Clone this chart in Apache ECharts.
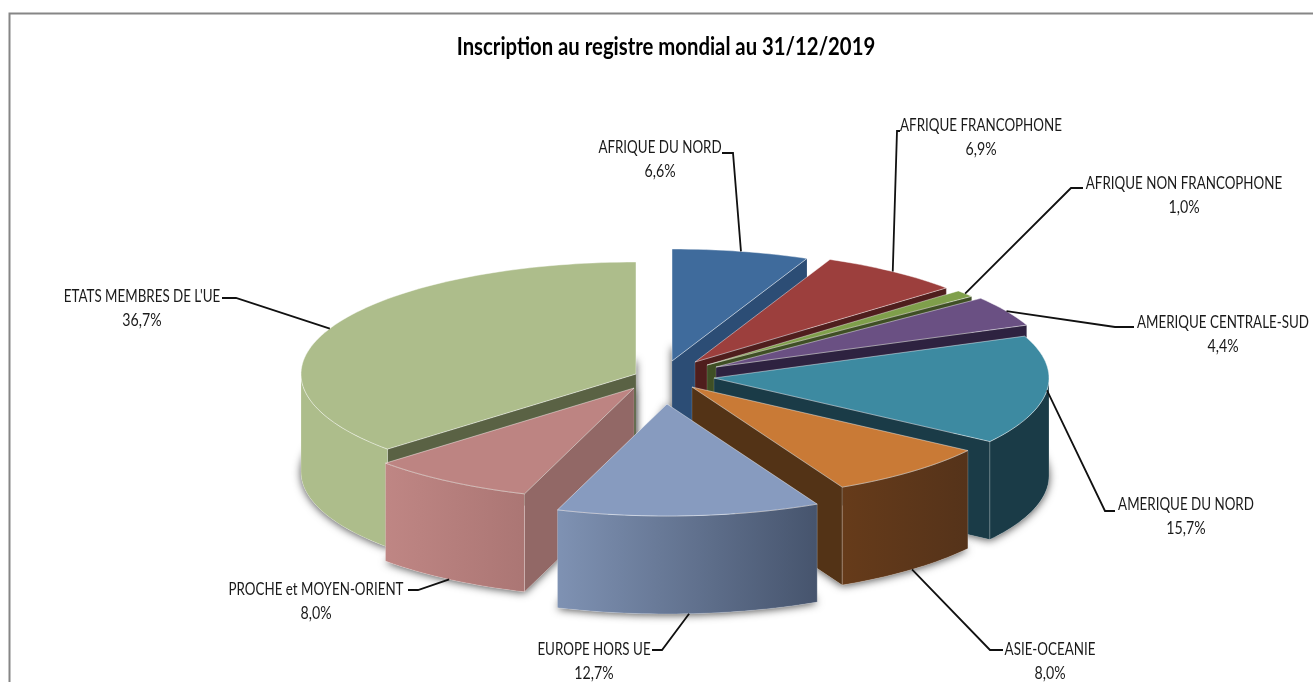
<!DOCTYPE html>
<html><head><meta charset="utf-8">
<style>html,body{margin:0;padding:0;background:#fff}#c{width:1313px;height:682px}</style>
<script src="https://cdn.jsdelivr.net/npm/echarts@6/dist/echarts.min.js"></script>
</head><body><div id="c"></div>
<script>
const chartTitle = "Inscription au registre mondial au 31/12/2019";
const categories = ["AFRIQUE DU NORD","AFRIQUE FRANCOPHONE","AFRIQUE NON FRANCOPHONE","AMERIQUE CENTRALE-SUD","AMERIQUE DU NORD","ASIE-OCEANIE","EUROPE HORS UE","PROCHE et MOYEN-ORIENT","ETATS MEMBRES DE L'UE"];
const shares = [6.6,6.9,1.0,4.4,15.7,8.0,12.7,8.0,36.7];

// Drawing parameters of the exploded 3D pie
const RX = 335, RY = 112, DEPTH = 98;
const explodedApex = [[672,361],[695,362],[707,365],[716,367],[714,378],[692,387],[667,404],[634,388],[636,374]];
const shadowLift = [14,0,0,0,0,0,0,0,14];
const paintOrder = [0,1,2,3,8,4,7,5,6];
const topColors = ["#3F6B9C","#9C3F3D","#7F9F4B","#6A5083","#3D8AA1","#C97A36","#879BBF","#BD8482","#ADBD8B"];
const sideColors = ["#2C4D75","#4F1E1D","#3F4F25","#2E2240","#1A3B47","#533316","#46546D","#926866","#5A6244"];
const arcColors = [["#2C4D75","#2C4D75"],["#4F1E1D","#4F1E1D"],["#3F4F25","#3F4F25"],["#2E2240","#2E2240"],["#1A3B47","#1A3B47"],["#663B1A","#55331A"],["#7F92B3","#46546D"],["#BF8684","#AB7674"],["#ADBD8B","#ADBD8B"]];
// label block centre x, first-line centre y, leader start x, elbow x, leader y
const labelLayout = [[660,148,722,733,153],[981,126,900,897,131],[1184,184,1083,1071,188],[1223,323,1134,1115,327],[1186,505,1115,1105,511],[1050,650,1003,990,650],[594,650,652,662,650],[316,590,408,418,590],[142,297,222,236,298]];
const fontFamily = "Lato";

const total = shares.reduce((a,b)=>a+b,0);
const bounds = []; { let acc=0; shares.forEach(v=>{ bounds.push([acc/total*2*Math.PI,(acc+v)/total*2*Math.PI]); acc+=v; }); }
const rad = d=>d*Math.PI/180;
function pt(i,a,dz){ const c=explodedApex[i]; return [c[0]+RX*Math.sin(a), c[1]-RY*Math.cos(a)+(dz||0)]; }
function arcPts(i,a0,a1,dz){ const n=Math.max(2,Math.ceil((a1-a0)/rad(1.5))); const r=[]; for(let k=0;k<=n;k++) r.push(pt(i,a0+(a1-a0)*k/n,dz)); return r; }
function hull(ps){ ps=ps.slice().sort((a,b)=>a[0]-b[0]||a[1]-b[1]); const cr=(o,a,b)=>(a[0]-o[0])*(b[1]-o[1])-(a[1]-o[1])*(b[0]-o[0]); const lo=[],up=[];
  for(const p of ps){ while(lo.length>=2&&cr(lo[lo.length-2],lo[lo.length-1],p)<=0) lo.pop(); lo.push(p); }
  for(const p of ps.slice().reverse()){ while(up.length>=2&&cr(up[up.length-2],up[up.length-1],p)<=0) up.pop(); up.push(p); }
  return lo.slice(0,-1).concat(up.slice(0,-1)); }
const EDGE = "rgba(255,255,255,0.55)";

function renderShadow(params,api){
  const i=api.value(0), [a0,a1]=bounds[i], c=explodedApex[i];
  const pts=arcPts(i,a0,a1,DEPTH).concat([[c[0],c[1]-shadowLift[i]],[c[0],c[1]+DEPTH]]);
  return {type:'polygon',shape:{points:hull(pts)},style:{fill:'#fff',shadowColor:'rgba(0,0,0,0.7)',shadowBlur:8,shadowOffsetX:0,shadowOffsetY:1}};
}
function radialWall(i,a){ const c=explodedApex[i], p=pt(i,a);
  return {type:'polygon',shape:{points:[c,p,[p[0],p[1]+DEPTH],[c[0],c[1]+DEPTH]]},style:{fill:sideColors[i],stroke:'rgba(255,255,255,0.25)',lineWidth:0.6}}; }
function renderSlice(params,api){
  const i=api.value(0), [a0,a1]=bounds[i], c=explodedApex[i], kids=[];
  if(Math.sin(a0)<0) kids.push(radialWall(i,a0));
  if(Math.sin(a1)>0) kids.push(radialWall(i,a1));
  const s=Math.max(a0,Math.PI/2), e=Math.min(a1,Math.PI*1.5);
  if(e>s){ const top=arcPts(i,s,e), bot=arcPts(i,s,e,DEPTH).reverse();
    kids.push({type:'polygon',shape:{points:top.concat(bot)},style:{fill:{type:'linear',x:0,y:0,x2:1,y2:0,colorStops:[{offset:0,color:arcColors[i][0]},{offset:1,color:arcColors[i][1]}]},stroke:'rgba(255,255,255,0.3)',lineWidth:0.7}}); }
  kids.push({type:'polygon',shape:{points:[c].concat(arcPts(i,a0,a1))},style:{fill:topColors[i],stroke:EDGE,lineWidth:0.8}});
  return {type:'group',children:kids};
}
function renderLabel(params,api){
  const i=api.value(0), L=labelLayout[i], [a0,a1]=bounds[i], mid=(a0+a1)/2;
  const end=pt(i,mid,Math.cos(mid)<-0.5?DEPTH:0);
  const txt=(t,y,sx)=>({type:'text',x:L[0],y:y,scaleX:sx,style:{text:t,fill:'#1a1a1a',font:'16.5px '+fontFamily,align:'center',verticalAlign:'middle'}});
  return {type:'group',children:[
    {type:'polyline',shape:{points:[[L[2],L[4]],[L[3],L[4]],end]},style:{fill:'none',stroke:'#111',lineWidth:1.8}},
    txt(categories[i],L[1],0.81),
    txt(shares[i].toFixed(1).replace('.',',')+'%',L[1]+24,0.86)
  ]};
}
const chart=echarts.init(document.getElementById('c'));
chart.setOption({
  animation:false,
  backgroundColor:'#fff',
  graphic:[
    {type:'polyline',shape:{points:[[1313,13.5],[9.5,13.5],[9.5,682]]},style:{fill:'none',stroke:'#868686',lineWidth:2}},
    {type:'text',x:666,y:47,scaleX:0.846,style:{text:chartTitle,fill:'#000',font:'bold 24px '+fontFamily,align:'center',verticalAlign:'middle'}}
  ],
  series:[
    {type:'custom',coordinateSystem:'none',z:1,data:paintOrder.map(i=>[i]),renderItem:renderShadow,silent:true},
    {type:'custom',coordinateSystem:'none',z:2,data:paintOrder.map(i=>[i]),renderItem:renderSlice,silent:true},
    {type:'custom',coordinateSystem:'none',z:3,data:categories.map((c,i)=>[i]),renderItem:renderLabel,silent:true}
  ]
});
</script></body></html>
